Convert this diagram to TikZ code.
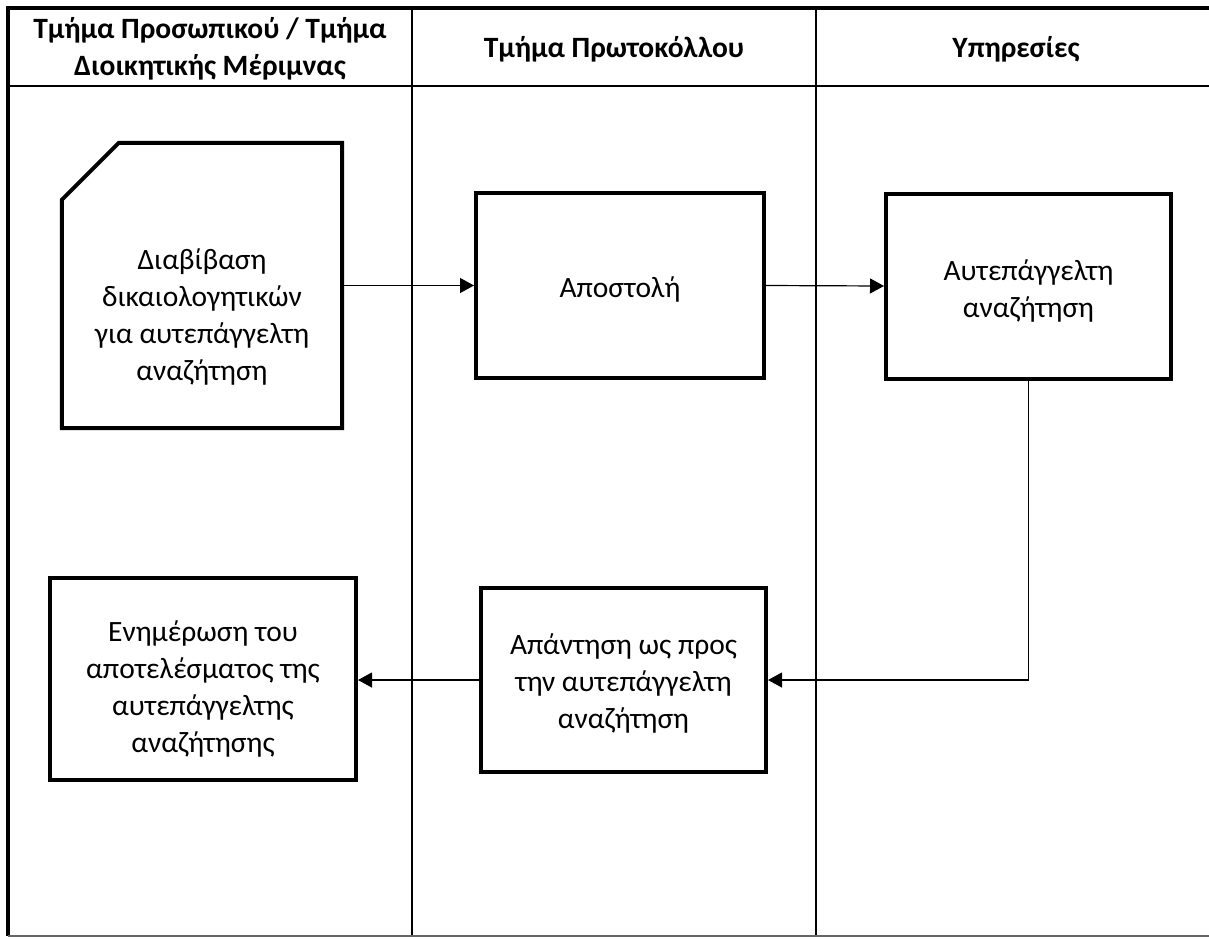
\documentclass[tikz,border=0pt]{standalone}
\usepackage{fontspec}
\setmainfont{Carlito}
\usetikzlibrary{arrows.meta,calc}
\tikzset{
  box/.style={draw, line width=4pt, minimum width=#1, inner sep=0pt},
  txt/.style={align=center, font=\bodyfont, inner sep=0pt},
  head/.style={align=center, font=\headfont, inner sep=0pt},
  lane/.style={line width=2pt},
  flow/.style={line width=1.2pt, -{Triangle[length=14pt,width=15pt]}},
}
\newcommand{\bodyfont}{\fontsize{29.5}{37}\selectfont}
\newcommand{\headfont}{\fontsize{29.5}{37}\selectfont\bfseries}
\begin{document}
\begin{tikzpicture}[x=1pt,y=-1pt]
\useasboundingbox (0,0) rectangle (1209,938);
% swimlane frame
\draw[line width=4pt] (8,936) -- (8,8) -- (1209,8);
\draw[lane] (8,85.5) -- (1209,85.5);
\draw[lane] (412,8) -- (412,936);
\draw[lane] (816,8) -- (816,936);
\draw[line width=1.5pt, black!60] (8,936) -- (1209,936);
% headers
\node[head] (h1) at (210,49) {Τμήμα Προσωπικού / Τμήμα\\Διοικητικής Μέριμνας};
\node[head] (h2) at (614,49) {Τμήμα Πρωτοκόλλου};
\node[head] (h3) at (1016,49) {Υπηρεσίες};
% document shape
\node[minimum width=280pt, minimum height=285pt, inner sep=0pt] (doc) at (202,285.5) {};
\draw[line width=4pt, line join=miter]
  ($(doc.north west)+(0,57)$) -- ($(doc.north west)+(57,0)$) -- (doc.north east)
  -- (doc.south east) -- (doc.south west) -- cycle;
\node[txt] (doctext) at (202,317) {Διαβίβαση\\δικαιολογητικών\\για αυτεπάγγελτη\\αναζήτηση};
% boxes
\node[box=288pt, minimum height=185pt] (send) at (620,285.5) {};
\node[txt] (sendtext) at (620,289.5) {Αποστολή};
\node[box=285pt, minimum height=185pt] (search) at (1028.5,286) {};
\node[txt] (searchtext) at (1028.5,291) {Αυτεπάγγελτη\\αναζήτηση};
\node[box=285pt, minimum height=184pt] (reply) at (623.5,680) {};
\node[txt] (replytext) at (623.5,683) {Απάντηση ως προς\\την αυτεπάγγελτη\\αναζήτηση};
\node[box=306pt, minimum height=202pt] (update) at (203,679) {};
\node[txt] (updatetext) at (203,689) {Ενημέρωση του\\αποτελέσματος της\\αυτεπάγγελτης\\αναζήτησης};
% connectors
\draw[flow] (doc.east) -- (send.west);
\draw[flow] (send.east) -- (search.west);
\draw[flow] (search.south) |- (reply.east);
\draw[flow] (reply.west) -- (reply.west -| update.east);
\end{tikzpicture}
\end{document}
